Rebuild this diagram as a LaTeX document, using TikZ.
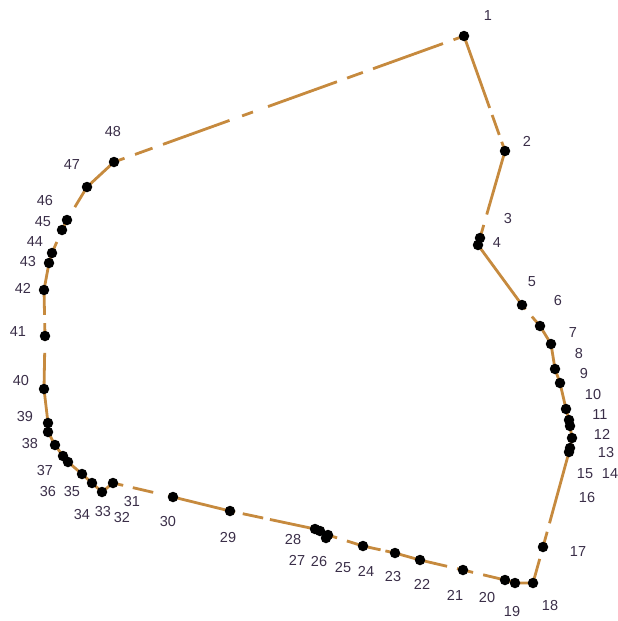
\documentclass[tikz,border=0pt]{standalone}
\usepackage{fontspec}
\setmainfont{Liberation Sans}
\usetikzlibrary{calc}
\definecolor{linec}{RGB}{198,138,62}
\definecolor{labc}{RGB}{58,46,72}
\newcommand\segpart[4]{\draw[seg] ($(#1)!#3!(#2)$) -- ($(#1)!#4!(#2)$);}
\begin{document}
\begin{tikzpicture}[x=1pt,y=-1pt,
  seg/.style={draw=linec,line width=2.8pt},
  dot/.style={circle,fill=black,inner sep=0pt,minimum size=10.5pt},
  lab/.style={text=labc,font=\fontsize{14.5}{15}\selectfont,inner sep=0pt}]
\useasboundingbox (0,0) rectangle (618,621);
% points
\foreach \n/\x/\y in {1/464/36,2/505/151,3/480/238,4/478/245,5/522/305,6/540/326,
  7/551/344,8/555/369,9/560/383,10/566/409,11/569/420,12/570/426,13/572/438,
  14/570/448,15/569/452,17/543/547,18/533/583,19/515/583,20/505/580,21/463/570,
  22/420/560,23/395/553,24/363/546,25/328/535,26/326/538,27/320/531,28/315/529,
  29/230/511,30/173/497,31/113/483,32/102/492,33/92/483,34/82/474,35/68/462,
  36/63/456,37/55/445,38/48/432,39/48/423,40/44/389,41/45/336,42/44/290,
  43/49/263,44/52/253,45/62/230,46/67/220,47/87/187,48/114/162}
  {\coordinate (p\n) at (\x,\y);}
% connectors
\segpart{p1}{p2}{0}{0.626}
\segpart{p1}{p2}{0.687}{0.86}
\segpart{p1}{p2}{0.92}{1}
\segpart{p2}{p3}{0}{0.73}
\segpart{p2}{p3}{0.85}{1}
\draw[seg] (p3) -- (p4) -- (p5);
\segpart{p5}{p6}{0}{0.2}
\segpart{p5}{p6}{0.55}{1}
\draw[seg] (p6) -- (p7) -- (p8) -- (p9) -- (p10) -- (p11) -- (p12) -- (p13) -- (p14) -- (p15);
\segpart{p15}{p17}{0}{0.75}
\segpart{p15}{p17}{0.84}{1}
\segpart{p17}{p18}{0.33}{1}
\draw[seg] (p18) -- (p19) -- (p20);
\segpart{p20}{p21}{0}{0.52}
\segpart{p20}{p21}{0.76}{1}
\segpart{p21}{p22}{0}{0.14}
\segpart{p21}{p22}{0.37}{1}
\draw[seg] (p22) -- (p23);
\segpart{p23}{p24}{0}{0.3}
\segpart{p23}{p24}{0.45}{1}
\segpart{p24}{p25}{0}{0.46}
\segpart{p24}{p25}{0.74}{1}
\draw[seg] (p25) -- (p26) -- (p27) -- (p28);
\segpart{p28}{p29}{0}{0.53}
\segpart{p28}{p29}{0.61}{0.85}
\segpart{p28}{p29}{0.94}{1}
\draw[seg] (p29) -- (p30);
\segpart{p30}{p31}{0}{0.08}
\segpart{p30}{p31}{0.33}{0.67}
\segpart{p30}{p31}{0.83}{1}
\draw[seg] (p31) -- (p32) -- (p33) -- (p34) -- (p35) -- (p36) -- (p37) -- (p38) -- (p39) -- (p40);
\segpart{p40}{p41}{0}{0.68}
\segpart{p40}{p41}{0.92}{1}
\segpart{p41}{p42}{0}{0.28}
\segpart{p41}{p42}{0.46}{1}
\draw[seg] (p42) -- (p43) -- (p44);
\segpart{p44}{p45}{0}{0.48}
\draw[seg] (p45) -- (p46);
\segpart{p46}{p47}{0.39}{1}
\draw[seg] (p47) -- (p48);
\segpart{p48}{p1}{0}{0.03}
\segpart{p48}{p1}{0.06}{0.11}
\segpart{p48}{p1}{0.14}{0.33}
\segpart{p48}{p1}{0.366}{0.397}
\segpart{p48}{p1}{0.44}{0.637}
\segpart{p48}{p1}{0.666}{0.711}
\segpart{p48}{p1}{0.74}{0.94}
\segpart{p48}{p1}{0.97}{1}
% dots
\foreach \n in {1,...,15,17,18,...,48}
  {\node[dot] (d\n) at (p\n) {};}
% labels
\foreach \n/\x/\y in {1/488/16,2/527/141,3/508/219,4/497/243,5/532/282,6/558/301,
  7/573/333,8/579/354,9/584/374,10/593/395,11/600/415,12/602/434,13/606/453,
  14/610/474,15/585/474,16/587/498,17/578/552,18/550/606,19/512/612,20/487/598,
  21/455/595,22/422/584,23/393/577,24/366/571,25/343/568,26/319/562,27/297/560,
  28/293/540,29/228/538,30/168/522,31/132/502,32/122/518,33/103/512,34/82/515,
  35/72/492,36/48/492,37/45/471,38/30/444,39/25/417,40/21/381,41/18/332,
  42/23/288,43/28/262,44/35/242,45/43/222,46/45/201,47/72/165,48/113/132}
  {\node[lab] (l\n) at (\x,\y) {\n};}
\end{tikzpicture}
\end{document}
